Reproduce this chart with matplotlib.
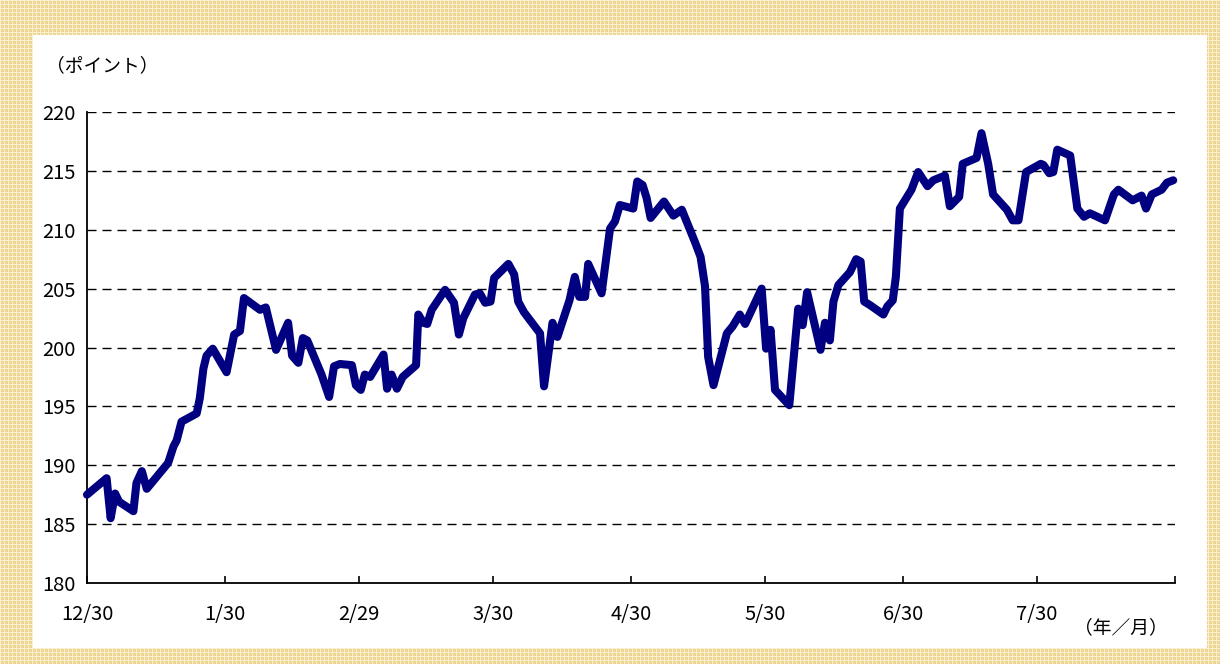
import numpy as np
import matplotlib
matplotlib.use("Agg")
import matplotlib.pyplot as plt

plt.rcParams['font.family'] = ['Noto Sans CJK JP', 'DejaVu Sans']

# ---- data (days since 12/30, index value) ----
days = [0, 4.4, 5.3, 6.3, 7.2, 10.4, 11.1, 12.3, 13.4, 18.2, 19.4, 20.1, 21.2,
        24.6, 25.3, 26.1, 26.8, 28.2, 31.3, 33.0, 34.3, 35.2, 38.8, 40.1, 42.4,
        45.1, 46.0, 47.4, 48.4, 49.4, 52.6, 54.3, 55.4, 56.7, 59.4, 60.3, 61.4,
        62.3, 63.5, 66.5, 67.3, 68.3, 69.5, 70.8, 73.8, 74.3, 75.4, 76.3, 77.3,
        80.3, 82.3, 83.4, 84.4, 87.0, 88.1, 89.3, 90.5, 91.3, 94.5, 95.8, 96.7,
        98.0, 101.6, 102.5, 104.4, 105.5, 108.2, 109.4, 110.4, 111.7, 112.4,
        115.4, 116.7, 117.3, 118.4, 119.5, 122.5, 123.4, 124.6, 125.5, 126.4,
        129.4, 131.5, 133.4, 136.4, 137.6, 138.6, 139.3, 140.5, 143.5, 144.8,
        146.4, 147.6, 151.3, 152.3, 153.3, 154.3, 157.5, 159.5, 160.5, 161.5,
        164.5, 165.5, 166.6, 167.4, 168.5, 171.1, 172.5, 173.5, 174.3, 175.6,
        178.6, 179.5, 180.7, 181.4, 182.3, 184.9, 186.4, 188.5, 189.8, 192.4,
        193.5, 195.6, 196.4, 199.5, 200.6, 202.1, 203.2, 206.3, 207.6, 208.9,
        210.6, 213.9, 214.5, 215.8, 216.7, 217.6, 220.5, 222.1, 223.6, 224.9,
        228.3, 230.3, 231.3, 234.5, 236.5, 237.5, 238.8, 241.0, 242.2, 243.6]
values = [187.5, 188.9, 185.5, 187.6, 186.9, 186.1, 188.5, 189.5, 188.0, 190.2,
          191.6, 192.1, 193.7, 194.4, 195.7, 198.2, 199.3, 199.9, 197.9, 201.1,
          201.4, 204.2, 203.2, 203.4, 199.8, 202.1, 199.3, 198.7, 200.8, 200.6,
          197.7, 195.8, 198.4, 198.6, 198.5, 196.8, 196.4, 197.7, 197.5, 199.4,
          196.5, 197.7, 196.5, 197.5, 198.5, 202.8, 202.1, 202.0, 203.2, 204.9,
          203.8, 201.1, 202.5, 204.5, 204.6, 203.8, 203.9, 205.9, 207.1, 206.2,
          203.9, 203.0, 201.2, 196.7, 202.1, 200.9, 204.0, 206.0, 204.3, 204.3,
          207.1, 204.6, 208.4, 210.1, 210.7, 212.1, 211.8, 214.1, 213.8, 212.7,
          211.0, 212.4, 211.2, 211.7, 208.9, 207.7, 205.2, 199.2, 196.8, 201.2,
          201.8, 202.8, 202.0, 205.0, 199.9, 201.5, 196.4, 195.1, 203.3, 201.9,
          204.7, 199.8, 202.1, 200.6, 203.9, 205.3, 206.4, 207.5, 207.3, 203.9,
          203.6, 202.8, 203.5, 204.0, 206.0, 211.8, 213.4, 214.9, 213.7, 214.2,
          214.6, 212.0, 212.8, 215.6, 216.1, 218.2, 215.6, 213.0, 211.7, 210.8,
          210.8, 214.9, 215.6, 215.5, 214.8, 214.9, 216.8, 216.3, 211.8, 211.1,
          211.4, 210.8, 213.0, 213.4, 212.5, 212.9, 211.8, 213.0, 213.4, 214.0,
          214.2]
tick_days = [0, 31, 61, 91, 122, 152, 183, 213, 244]
tick_labels = ['12/30', '1/30', '2/29', '3/30', '4/30', '5/30', '6/30', '7/30', '']
y_ticks = [180, 185, 190, 195, 200, 205, 210, 215, 220]

W, H = 1220, 664
fig = plt.figure(figsize=(W / 100, H / 100), dpi=100)

# patterned beige border
yy, xx = np.mgrid[0:H, 0:W]
img = np.zeros((H, W, 3))
base = np.array([236, 212, 142]) / 255.0
light = np.array([250, 240, 205]) / 255.0
mid = np.array([243, 227, 175]) / 255.0
img[:] = base
m1 = (xx % 4 == 0) | (yy % 4 == 0)
img[m1] = light
m2 = (xx % 4 == 2) & (yy % 4 == 2)
img[m2] = mid
inner = (xx >= 33) & (xx < 1207) & (yy >= 35) & (yy < 648)
img[inner] = 1.0
fig.figimage(img, xo=0, yo=0, origin='upper', zorder=0)

ax = fig.add_axes([87 / W, 1 - 583 / H, (1175 - 87) / W, (583 - 112) / H])
ax.set_zorder(2)
ax.set_facecolor('none')
ax.set_xlim(0, 244)
ax.set_ylim(180, 220)

for v in y_ticks[1:]:
    ax.axhline(v, color='black', lw=1.0, dashes=(6.5, 4.3), zorder=1)

ax.plot(days, values, color='#000080', lw=5.8, solid_joinstyle='round',
        solid_capstyle='round', zorder=3, clip_on=False)

for s in ['top', 'right']:
    ax.spines[s].set_visible(False)
for s in ['left', 'bottom']:
    ax.spines[s].set_linewidth(1.3)
    ax.spines[s].set_color('black')

ax.set_xticks(tick_days)
ax.set_xticklabels(tick_labels, fontsize=14.5)
ax.tick_params(axis='x', direction='in', length=5, width=1.2, pad=15)
ax.set_yticks(y_ticks)
ax.set_yticklabels([str(v) for v in y_ticks], fontsize=14.5)
ax.tick_params(axis='y', length=0, pad=8)

fig.text(46 / W, 1 - 66 / H, '（ポイント）', fontsize=13.5, ha='left', va='center', zorder=3)
fig.text(1074 / W, 1 - 628 / H, '（年／月）', fontsize=13.5, ha='left', va='center', zorder=3)

fig.savefig('out.png', dpi=100)
